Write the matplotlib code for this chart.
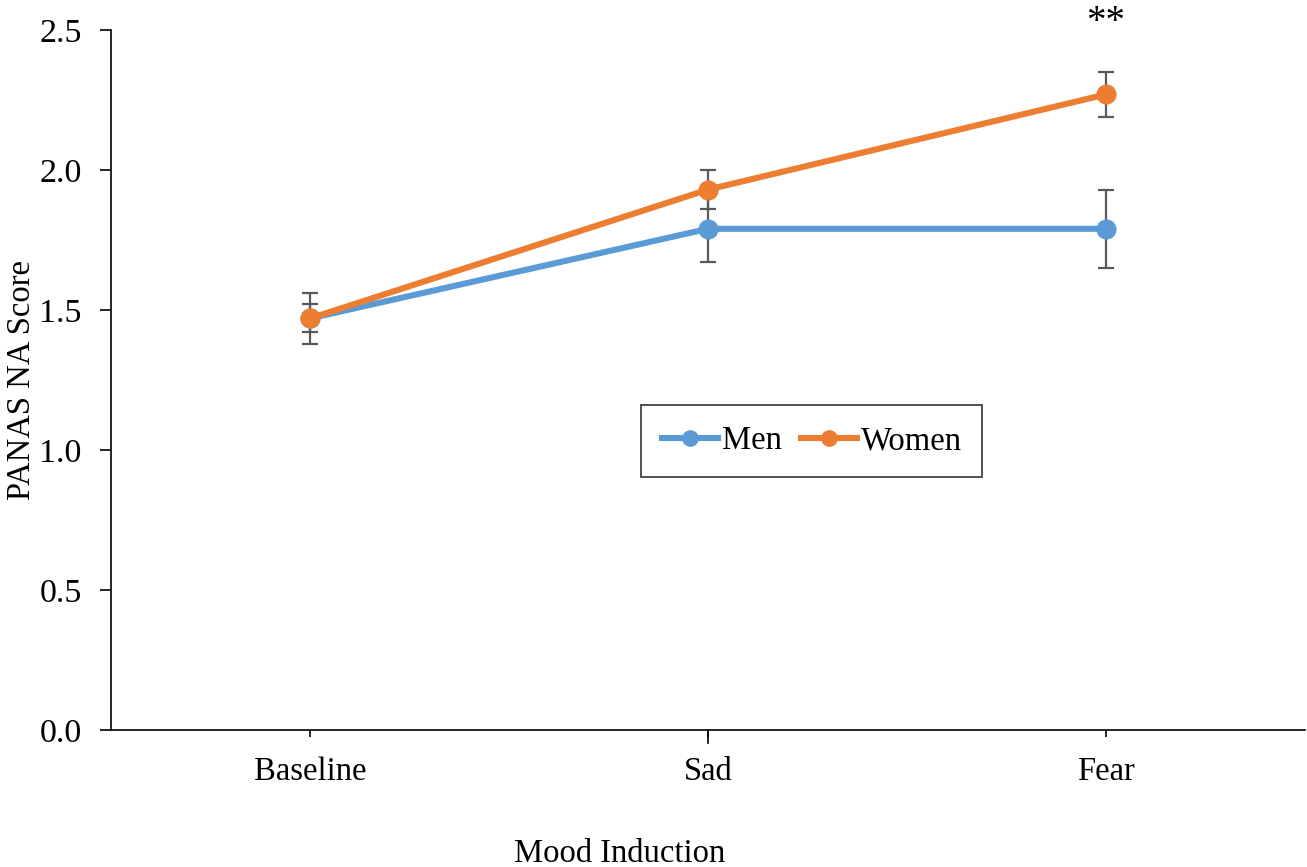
import numpy as np
import matplotlib
matplotlib.use("Agg")
import matplotlib.pyplot as plt

# --- data ---
conditions = ["Baseline", "Sad", "Fear"]
men_mean = [1.47, 1.79, 1.79]
men_err = [0.05, 0.12, 0.14]
women_mean = [1.47, 1.93, 2.27]
women_err = [0.09, 0.07, 0.08]
y_ticks = [0.0, 0.5, 1.0, 1.5, 2.0, 2.5]

plt.rcParams["font.family"] = ["Liberation Serif", "DejaVu Serif"]
FS = 23.5

fig = plt.figure(figsize=(13.07, 8.67), dpi=100)
ax = fig.add_axes([0.0849, 0.158, 0.9136, 0.8074])

x = np.arange(len(conditions))
err_style = dict(fmt="none", ecolor="#595959", elinewidth=1.6, capsize=6, capthick=1.6)

ax.errorbar(x, men_mean, yerr=men_err, zorder=2, **err_style)
ax.errorbar(x, women_mean, yerr=women_err, zorder=2, **err_style)
ax.plot(x, men_mean, color="#5B9BD5", lw=4.4, marker="o", ms=13.5, label="Men", zorder=3)
ax.plot(x, women_mean, color="#ED7D31", lw=4.4, marker="o", ms=13.5, label="Women", zorder=4)

ax.set_xlim(-0.5, 2.5)
ax.set_ylim(0, 2.5)
ax.set_xticks(x)
ax.set_xticklabels(conditions, fontsize=FS)
ax.set_yticks(y_ticks)
ax.set_yticklabels([f"{v:.1f}" for v in y_ticks], fontsize=24.5)
ax.tick_params(axis="y", length=8, width=1.2, pad=13)
ax.tick_params(axis="x", length=5, width=1.2, pad=14)

ax.spines["top"].set_visible(False)
ax.spines["right"].set_visible(False)
for s in ("left", "bottom"):
    ax.spines[s].set_linewidth(1.2)
# small end tick at the right of the x axis
ax.plot([1, 1], [0, -0.018], transform=ax.get_xaxis_transform(), color="black",
        lw=1.2, clip_on=False)

ax.text(2, 2.493, "**", fontsize=28, ha="center", va="baseline", clip_on=False)

ax.set_ylabel("PANAS NA Score", fontsize=FS, va="center")
ax.yaxis.set_label_coords(-0.075, 0.5)
fig.text(0.474, 0.0058, "Mood Induction", fontsize=FS, ha="center", va="baseline")

leg = ax.legend(loc="center", bbox_to_anchor=(0.587, 0.413), ncol=2, fontsize=FS,
                frameon=True, fancybox=False, edgecolor="black", handlelength=1.7,
                handletextpad=0.12, columnspacing=0.6, borderpad=0.64)
leg.get_frame().set_linewidth(1.2)
for h in leg.legend_handles:
    h.set_markersize(11)

fig.savefig("out.png", dpi=100)
